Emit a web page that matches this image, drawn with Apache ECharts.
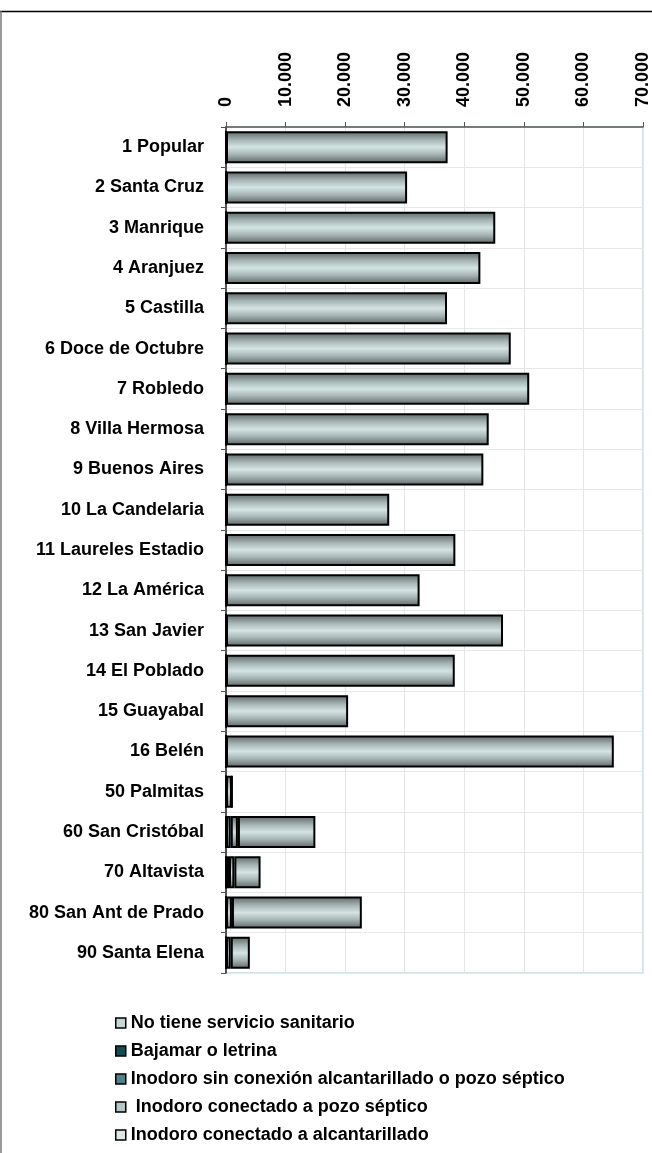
<!DOCTYPE html>
<html>
<head>
<meta charset="utf-8">
<script src="https://cdn.jsdelivr.net/npm/echarts@6/dist/echarts.min.js"></script>
<style>
html,body{margin:0;padding:0;background:#fff;}
#c{width:652px;height:1153px;}
</style>
</head>
<body>
<div id="c"></div>
<script>
var categories = ['1 Popular','2 Santa Cruz','3 Manrique','4 Aranjuez','5 Castilla','6 Doce de Octubre','7 Robledo','8 Villa Hermosa','9 Buenos Aires','10 La Candelaria','11 Laureles Estadio','12 La América','13 San Javier','14 El Poblado','15 Guayabal','16 Belén','50 Palmitas','60 San Cristóbal','70 Altavista','80 San Ant de Prado','90 Santa Elena'];
var seriesNames = ['No tiene servicio sanitario','Bajamar o letrina','Inodoro sin conexión alcantarillado o pozo séptico',' Inodoro conectado a pozo séptico','Inodoro conectado a alcantarillado'];
var noTiene      = [0,0,0,0,0,0,0,0,0,0,0,0,0,0,0,0,0,0,0,0,0];
var bajamar      = [0,0,0,0,0,0,0,0,0,0,0,0,0,0,0,0,0,0,0,0,0];
var sinConexion  = [0,0,0,0,0,0,0,0,0,0,0,0,0,0,0,0,0,800,500,0,0];
var pozoSeptico  = [0,0,0,0,0,0,0,0,0,0,0,0,0,0,0,0,1000,1200,900,1000,800];
var alcantarillado = [37200,30400,45200,42700,37100,47800,50900,44100,43200,27400,38500,32500,46500,38400,20500,65100,0,13000,4400,21800,3200];
var xTicks = [0,10000,20000,30000,40000,50000,60000,70000];

function grad(edge, mid){
  return new echarts.graphic.LinearGradient(0,0,0,1,[
    {offset:0,color:edge},{offset:0.28,color:'#a8b6b6'},{offset:0.5,color:mid},{offset:0.72,color:'#a8b6b6'},{offset:1,color:edge}]);
}
function gradT(edge, mid, q){
  return new echarts.graphic.LinearGradient(0,0,0,1,[
    {offset:0,color:edge},{offset:0.28,color:q},{offset:0.5,color:mid},{offset:0.72,color:q},{offset:1,color:edge}]);
}
var fills = [
  grad('#5c6565','#d4e3e3'),
  gradT('#123c40','#2f7a80','#1f5a60'),
  gradT('#3b6468','#9cc8cc','#6f9ca0'),
  grad('#5c6565','#d4e3e3'),
  grad('#5c6565','#d4e3e3')
];
var legendColors = ['#c4d6d6','#0e4d52','#4f8286','#b4c8c8','#dfe8e8'];
var dataArr = [noTiene,bajamar,sinConexion,pozoSeptico,alcantarillado];

var FONT = '"Liberation Sans", Arial, sans-serif';
var chart = echarts.init(document.getElementById('c'));
var series = seriesNames.map(function(n,i){
  return {
    name:n, type:'bar', stack:'t', barWidth:32,
    data:dataArr[i],
    itemStyle:{color:fills[i], borderColor:'#000', borderWidth:2},
    emphasis:{disabled:true}
  };
});
chart.setOption({
  animation:false,
  backgroundColor:'#fff',
  grid:{left:226,right:8,top:127,bottom:180,show:true,borderColor:'#d2e4e4',borderWidth:2,backgroundColor:'transparent'},
  xAxis:{
    type:'value', position:'top', min:0, max:70000, interval:10000,
    axisLine:{show:true,lineStyle:{color:'#555',width:1.5}},
    axisTick:{show:true,length:5,lineStyle:{color:'#555'}},
    splitLine:{show:true,lineStyle:{color:'#e6e6e6',width:1}},
    axisLabel:{rotate:-90, margin:20, fontFamily:FONT, fontWeight:'bold', fontSize:18, color:'#000',
      formatter:function(v){ return v===0?'0':(v/1000)+'.000'; }}
  },
  yAxis:{
    type:'category', inverse:true, data:categories,
    axisLine:{show:true,lineStyle:{color:'#222',width:1.5}},
    axisTick:{show:true,length:5,lineStyle:{color:'#555'}},
    splitLine:{show:true,lineStyle:{color:'#e8e8e8',width:1}},
    axisLabel:{margin:22, fontFamily:FONT, fontWeight:'bold', fontSize:18, color:'#000'}
  },
  legend:{
    orient:'vertical', left:110, top:1009, itemWidth:10, itemHeight:10, itemGap:10,
    textStyle:{fontFamily:FONT, fontWeight:'bold', fontSize:18, color:'#000', lineHeight:18},
    data:seriesNames.map(function(n,i){
      return {name:n, icon:'rect', itemStyle:{color:legendColors[i], borderColor:'#000', borderWidth:1.5}};
    })
  },
  graphic:[
    {type:'line', shape:{x1:0,y1:11.5,x2:652,y2:11.5}, style:{stroke:'#000',lineWidth:1.5}, z:100},
    {type:'line', shape:{x1:1,y1:11,x2:1,y2:1153}, style:{stroke:'#777',lineWidth:1.5}, z:100}
  ],
  series:series
});
</script>
</body>
</html>
